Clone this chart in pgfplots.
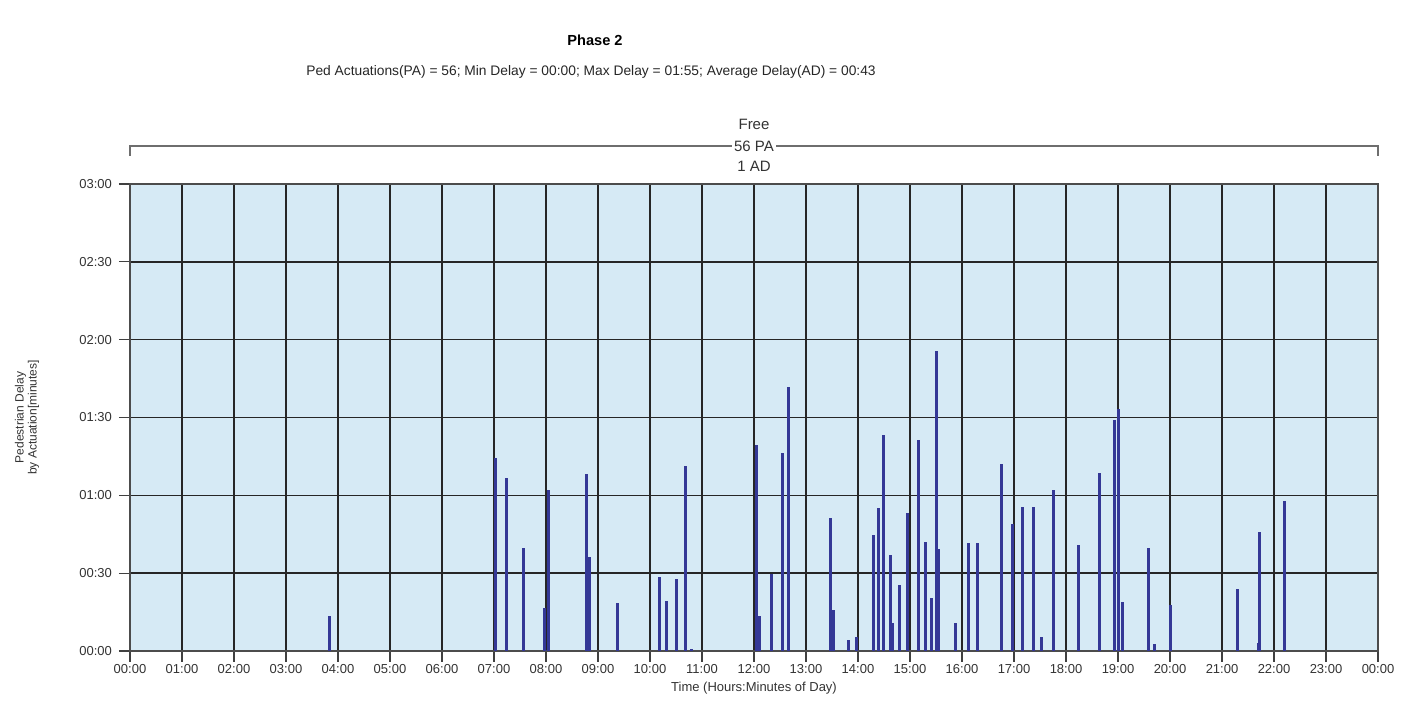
\documentclass[border=0pt]{standalone}
\usepackage{fontspec}
\setmainfont{Liberation Sans}
\usepackage{pgfplots}
\pgfplotsset{compat=1.18}
\definecolor{bgblue}{RGB}{214,234,245}
\definecolor{barblue}{RGB}{52,56,150}
\definecolor{brgray}{RGB}{110,110,110}
\begin{document}
\begin{tikzpicture}
\begin{axis}[
  scale only axis,
  width=624pt, height=233.5pt,
  xmin=0, xmax=24, ymin=0, ymax=180,
  xtick={0,1,...,24},
  xticklabels={00:00,01:00,02:00,03:00,04:00,05:00,06:00,07:00,08:00,09:00,10:00,11:00,12:00,13:00,14:00,15:00,16:00,17:00,18:00,19:00,20:00,21:00,22:00,23:00,00:00},
  ytick={0,30,...,180},
  yticklabels={00:00,00:30,01:00,01:30,02:00,02:30,03:00},
  tick label style={font=\fontsize{6.5}{7}\selectfont, text=black!80},
  xticklabel style={yshift=2.5pt},
  grid=major,
  major grid style={black!85, line width=0.7pt},
  axis line style={black!70, line width=0.8pt},
  tick style={black!75, line width=0.6pt},
  tick align=outside,
  major tick length=5.5pt,
  xtick pos=bottom, ytick pos=left,
  axis background/.style={fill=bgblue},
  xlabel={Time (Hours:Minutes of Day)},
  xlabel style={font=\fontsize{6.5}{7}\selectfont, text=black!80, at={(axis description cs:0.5,-0.079)}, anchor=center},
  ylabel={Pedestrian Delay\\by Actuation[minutes]},
  ylabel style={font=\fontsize{6}{6.5}\selectfont, text=black!80, align=center, at={(axis description cs:-0.0825,0.5)}, anchor=center},
  clip=false,
]
\addplot[ycomb, barblue, line width=1.5pt, mark=none] coordinates {
(3.846,13.6)
(7.02,74.5) (7.24,66.8) (7.56,39.6) (7.97,16.4) (8.04,62.0)
(8.77,68.1) (8.83,36.4) (9.37,18.6)
(10.19,28.4) (10.32,19.4) (10.51,27.9) (10.68,71.3) (10.80,0.8)
(12.05,79.4) (12.10,13.6) (12.33,29.5) (12.55,76.4) (12.66,101.6)
(13.48,51.1) (13.53,15.8) (13.82,4.2) (13.97,5.5)
(14.29,44.8) (14.40,55.0) (14.49,83.1) (14.63,36.9) (14.67,10.7) (14.79,25.4) (14.95,53.3)
(15.17,81.3) (15.29,41.9) (15.42,20.6) (15.51,115.6) (15.55,39.4) (15.87,10.7)
(16.13,41.7) (16.29,41.7) (16.76,72.1) (16.97,48.9)
(17.17,55.6) (17.37,55.6) (17.53,5.5) (17.76,62.0)
(18.24,40.7) (18.64,68.7) (18.94,89.0) (19.01,93.1) (19.09,18.8)
(19.58,39.6) (19.71,2.6) (20.01,17.7)
(21.29,23.9) (21.71,3.2) (21.73,45.9) (22.21,57.8)
};
% titles
\node[font=\bfseries\fontsize{7.3}{8}\selectfont] at ([yshift=72pt]rel axis cs:0.3726,1) {Phase 2};
\node[font=\fontsize{6.9}{8}\selectfont, text=black!85] at ([yshift=56pt]rel axis cs:0.3694,1) {Ped Actuations(PA) = 56; Min Delay = 00:00; Max Delay = 01:55; Average Delay(AD) = 00:43};
% bracket
\draw[brgray, line width=1pt] ([yshift=14pt]rel axis cs:0,1) -- ([yshift=19pt]rel axis cs:0,1) -- ([yshift=19pt]rel axis cs:1,1) -- ([yshift=14pt]rel axis cs:1,1);
\node[font=\fontsize{7.5}{8}\selectfont, text=black!80] at ([yshift=30pt]rel axis cs:0.5,1) {Free};
\node[font=\fontsize{7.5}{8}\selectfont, text=black!80, fill=white, inner xsep=1pt, inner ysep=0.5pt] at ([yshift=19pt]rel axis cs:0.5,1) {56 PA};
\node[font=\fontsize{7.5}{8}\selectfont, text=black!80] at ([yshift=9pt]rel axis cs:0.5,1) {1 AD};
\end{axis}
\path ([xshift=-65pt,yshift=-29.5pt]current axis.south west) rectangle ([xshift=16pt,yshift=92pt]current axis.north east);
\end{tikzpicture}
\end{document}
